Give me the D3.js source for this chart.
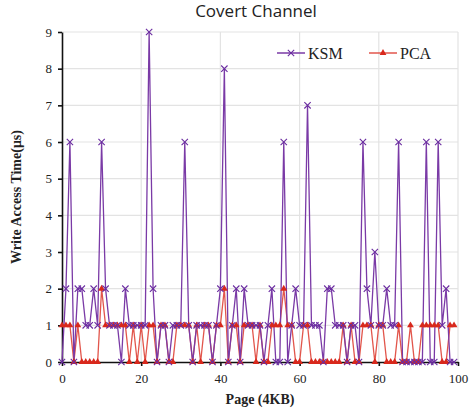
<!DOCTYPE html>
<html>
<head>
<meta charset="utf-8">
<script src="https://cdn.jsdelivr.net/npm/d3@7"></script>
<style>
  body { margin: 0; background: #fff; }
  svg { display: block; }
</style>
</head>
<body>
<script>
// data: one value per page, pages 0..99
const pages = d3.range(0, 100);
const ksm = [0,2,6,0,2,2,1,1,2,1, 6,2,1,1,1,0,2,1,1,1, 1,1,9,2,0,1,1,0,1,1,
             1,6,1,0,1,1,1,1,0,1, 2,8,0,1,2,0,2,1,1,1, 1,0,1,2,0,0,6,0,1,2,
             1,1,7,1,1,1,0,2,2,1, 1,1,0,1,1,0,6,2,1,3, 1,1,2,1,1,6,0,0,0,0,
             0,0,6,0,0,6,1,2,0,0];
const pca = [1,1,1,0,1,0,0,0,0,0, 2,1,1,1,1,1,1,0,1,0, 1,0,1,1,0,1,1,0,0,1,
             1,1,1,0,1,0,1,1,0,1, 1,2,0,1,1,0,1,1,1,0, 1,0,0,1,1,1,2,1,1,0,
             0,1,1,0,0,0,0,0,0,0, 0,1,0,1,0,0,1,1,1,0, 1,1,0,0,0,1,0,0,1,0,
             0,1,1,1,1,1,0,0,1,1];
const xTicks = [0, 20, 40, 60, 80, 100];
const yTicks = d3.range(0, 10);

const width = 474, height = 415;
const margin = {top: 32, right: 16, bottom: 53, left: 62};

const svg = d3.select("body").append("svg")
  .attr("width", width)
  .attr("height", height);

const x = d3.scaleLinear().domain([0, 100]).range([margin.left, width - margin.right]);
const y = d3.scaleLinear().domain([0, 9]).range([height - margin.bottom, margin.top]);

// grid
svg.append("g")
  .selectAll("line")
  .data(yTicks.slice(1))
  .join("line")
    .attr("x1", margin.left).attr("x2", x(100))
    .attr("y1", d => y(d)).attr("y2", d => y(d))
    .attr("stroke", "#e3e3e3").attr("stroke-width", 1.2);

svg.append("g")
  .selectAll("line")
  .data(xTicks.slice(1))
  .join("line")
    .attr("x1", d => x(d)).attr("x2", d => x(d))
    .attr("y1", y(0)).attr("y2", y(9))
    .attr("stroke", "#e3e3e3").attr("stroke-width", 1.2);

// axes
const xAxis = d3.axisBottom(x).tickValues(xTicks).tickSize(4).tickSizeOuter(0);
const yAxis = d3.axisLeft(y).tickValues(yTicks).tickSize(4).tickSizeOuter(0);

const gx = svg.append("g")
  .attr("transform", `translate(0,${y(0)})`)
  .call(xAxis);
gx.selectAll("text")
  .attr("dy", "1.1em")
  .style("font-family", "'Liberation Serif', serif")
  .style("font-size", "13px")
  .attr("fill", "#222");

const gy = svg.append("g")
  .attr("transform", `translate(${margin.left},0)`)
  .call(yAxis);
gy.selectAll("text")
  .attr("x", -10)
  .style("font-family", "'Liberation Serif', serif")
  .style("font-size", "13px")
  .attr("fill", "#222");

svg.selectAll(".domain, .tick line").attr("stroke", "#111").attr("stroke-width", 1.6);

// lines
const line = d3.line()
  .x((d, i) => x(pages[i]))
  .y(d => y(d));

svg.append("path")
  .datum(pca)
  .attr("fill", "none")
  .attr("stroke", "#e2564c")
  .attr("stroke-width", 1.3)
  .attr("d", line);

svg.append("path")
  .datum(ksm)
  .attr("fill", "none")
  .attr("stroke", "#7a3aa6")
  .attr("stroke-width", 1.3)
  .attr("d", line);

// markers
const tri = d3.symbol().type(d3.symbolTriangle).size(20);
svg.append("g")
  .selectAll("path")
  .data(pca)
  .join("path")
    .attr("d", tri)
    .attr("transform", (d, i) => `translate(${x(pages[i])},${y(d)})`)
    .attr("fill", "#d8281c");

const cross = d3.symbol().type(d3.symbolX).size(28);
svg.append("g")
  .selectAll("path")
  .data(ksm)
  .join("path")
    .attr("d", cross)
    .attr("transform", (d, i) => `translate(${x(pages[i])},${y(d)})`)
    .attr("fill", "none")
    .attr("stroke", "#6a2ca0")
    .attr("stroke-width", 1.1);

// legend
const legend = svg.append("g").style("font-family", "'Liberation Serif', serif").style("font-size", "16px");
const items = [
  {name: "KSM", x0: 277, color: "#7a3aa6", sym: cross, mark: "#6a2ca0"},
  {name: "PCA", x0: 369, color: "#e2564c", sym: tri, mark: "#d8281c"}
];
items.forEach(it => {
  legend.append("line")
    .attr("x1", it.x0).attr("x2", it.x0 + 28)
    .attr("y1", 53).attr("y2", 53)
    .attr("stroke", it.color).attr("stroke-width", 1.5);
  const m = legend.append("path")
    .attr("d", it.sym)
    .attr("transform", `translate(${it.x0 + 14},53)`);
  if (it.name === "KSM") m.attr("fill", "none").attr("stroke", it.mark).attr("stroke-width", 1.1);
  else m.attr("fill", it.mark);
  legend.append("text")
    .attr("x", it.x0 + 31).attr("y", 58.5)
    .attr("fill", "#222")
    .text(it.name);
});

// titles
svg.append("text")
  .attr("x", 256).attr("y", 17)
  .attr("text-anchor", "middle")
  .style("font-family", "'Open Sans', sans-serif")
  .style("font-size", "17px")
  .attr("fill", "#222")
  .text("Covert Channel");

svg.append("text")
  .attr("x", 260).attr("y", 404)
  .attr("text-anchor", "middle")
  .style("font-family", "'Liberation Serif', serif")
  .style("font-size", "14px")
  .style("font-weight", "bold")
  .attr("fill", "#222")
  .text("Page (4KB)");

svg.append("text")
  .attr("transform", `translate(21,${y(4.5)}) rotate(-90)`)
  .attr("text-anchor", "middle")
  .style("font-family", "'Liberation Serif', serif")
  .style("font-size", "14px")
  .style("font-weight", "bold")
  .attr("fill", "#222")
  .text("Write Access Time(μs)");
</script>
</body>
</html>
